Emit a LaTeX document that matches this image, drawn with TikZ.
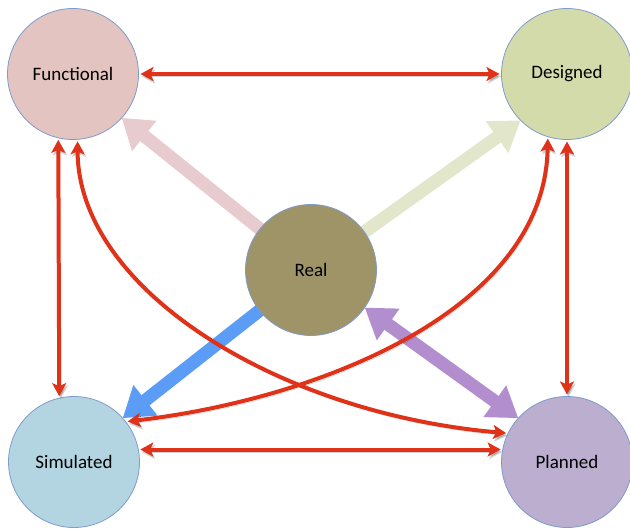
\documentclass[tikz,border=0pt]{standalone}
\usepackage{fontspec}
\setmainfont{Carlito}
\usetikzlibrary{arrows.meta,backgrounds}
\definecolor{cborder}{HTML}{7F9ACD}
\definecolor{cfunc}{HTML}{E3C4C1}
\definecolor{cdes}{HTML}{D4DBAB}
\definecolor{creal}{HTML}{9E9468}
\definecolor{csim}{HTML}{B2D5E1}
\definecolor{cplan}{HTML}{BBAECF}
\definecolor{cred}{HTML}{E03219}
\definecolor{cpink}{HTML}{E8CBCE}
\definecolor{cgreen}{HTML}{E2E7CB}
\definecolor{cblue}{HTML}{5B9CF6}
\definecolor{cpurple}{HTML}{B28ECF}
\begin{document}
\begin{tikzpicture}[x=1pt,y=-1pt,
  state/.style={circle, draw=cborder, line width=0.8pt, minimum size=131pt,
    inner sep=0pt, outer sep=0pt, font=\fontsize{19}{22}\selectfont},
  redtip/.tip={Stealth[length=13pt,width=14pt,inset=3pt]},
  redlink/.style={draw=cred, line width=4pt, redtip-redtip,
    shorten <=2pt, shorten >=2pt,
    preaction={draw=black, opacity=0.18, transform canvas={xshift=1.5pt,yshift=-2.5pt}}},
  fattip/.tip={Triangle[length=29pt,width=37pt]},
  fat/.style={line width=13pt}
]
\useasboundingbox (0,0) rectangle (630,530);
\node[state, fill=cfunc] (F) at (73,74) {Functional};
\node[state, fill=cdes]  (D) at (567,74) {Designed};
\node[state, fill=csim]  (S) at (74,462) {Simulated};
\node[state, fill=cplan] (P) at (567,462) {Planned};
\node[state, fill=creal] (R) at (311,270) {Real};

\begin{scope}[on background layer]
\draw[fat, draw=cpink, -fattip] (R.center) -- (F.-42);
\draw[fat, draw=cgreen, -fattip] (R.center) -- (D.-135);
\draw[fat, draw=cblue, -fattip] (R.center) -- (S.42);
\end{scope}
\draw[fat, draw=cpurple, fattip-fattip] (R.-35) -- (P.138);

\draw[redlink] (F.east) -- (D.west);
\draw[redlink] (S.11) -- (P.169);
\draw[redlink] (F.-103) -- (S.103);
\draw[redlink] (D.south) -- (P.north);
\draw[redlink] (F.-86) .. controls +(0,150) and +(-230,-20) .. (P.154);
\draw[redlink] (D.-107) .. controls +(-3,175) and +(190,-22) .. (S.38);
\end{tikzpicture}
\end{document}
